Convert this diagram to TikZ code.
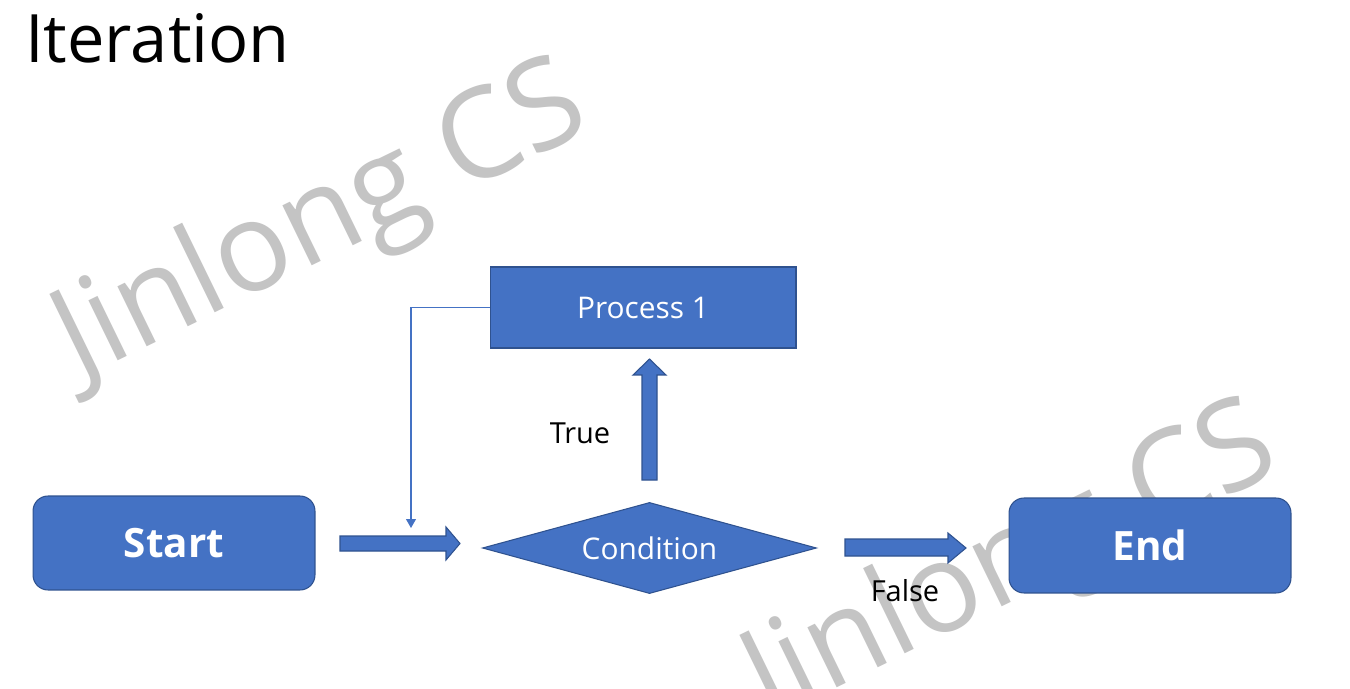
\documentclass[tikz,border=0pt]{standalone}
\usepackage{fontspec}
\setmainfont{Open Sans}
\usetikzlibrary{shapes.geometric,arrows.meta}
\definecolor{boxblue}{HTML}{4472C4}
\definecolor{boxedge}{HTML}{2F528F}
\definecolor{wm}{HTML}{C4C4C4}
\begin{document}
\begin{tikzpicture}[x=0.02cm,y=-0.02cm,
  flow/.style={fill=boxblue,draw=boxedge,line width=0.6pt,text=white,inner sep=0pt},
  blockarrow/.style={fill=boxblue,draw=boxedge,line width=0.6pt},
  wmark/.style={text=wm,font=\fontsize{71}{76}\selectfont,rotate=26},
  lbl/.style={text=black,font=\fontsize{16.5}{18}\selectfont},
  loopline/.style={draw=boxblue,line width=0.6pt,-{Triangle[width=0.2cm,length=0.18cm]}}]
\fill[white] (0,0) rectangle (1350,689);
\useasboundingbox (0,0) rectangle (1350,689);
% watermarks
\node[wmark] (wm1) at (322,225) {Jinlong CS};
\node[wmark] (wm2) at (1012,566) {Jinlong CS};
% title
\node[anchor=base west,inner sep=0pt,font=\fontsize{38}{42}\selectfont] (title) at (25,63) {Iteration};
% nodes
\node[flow,rectangle,minimum width=6.12cm,minimum height=1.62cm,font=\fontsize{17}{20}\selectfont] (proc) at (643,307.5) {Process 1};
\node[flow,rectangle,rounded corners=0.3cm,minimum width=5.64cm,minimum height=1.88cm,font=\bfseries\fontsize{23}{26}\selectfont] (start) at (174,543) {Start};
\node[flow,rectangle,rounded corners=0.3cm,minimum width=5.64cm,minimum height=1.9cm,font=\bfseries\fontsize{23}{26}\selectfont] (end) at (1150,545.5) {End};
\node[rectangle,inner sep=0pt,minimum width=6.66cm,minimum height=1.8cm] (cond) at (649.5,548) {};
\draw[blockarrow] (cond.west) -- (cond.north) -- (cond.east) -- (cond.south) -- cycle;
\node[text=white,font=\fontsize{17}{20}\selectfont] (condtext) at (cond.center) {Condition};
% block arrows
\draw[blockarrow] (340,536) -- (446,536) -- (446,527) -- (460,543.5) -- (446,560) -- (446,551) -- (340,551) -- cycle;
\draw[blockarrow] (642,480) -- (642,375) -- (633,375) -- (649.5,359) -- (666,375) -- (657,375) -- (657,480) -- cycle;
\draw[blockarrow] (845,539) -- (948,539) -- (948,533) -- (966,548) -- (948,563) -- (948,556) -- (845,556) -- cycle;
% labels
\node[lbl] (true) at (580,433) {True};
\node[lbl] (false) at (905,591) {False};
% loop back
\coordinate (loopend) at (411,528);
\draw[loopline] (proc.west) -| (loopend);
\end{tikzpicture}
\end{document}
